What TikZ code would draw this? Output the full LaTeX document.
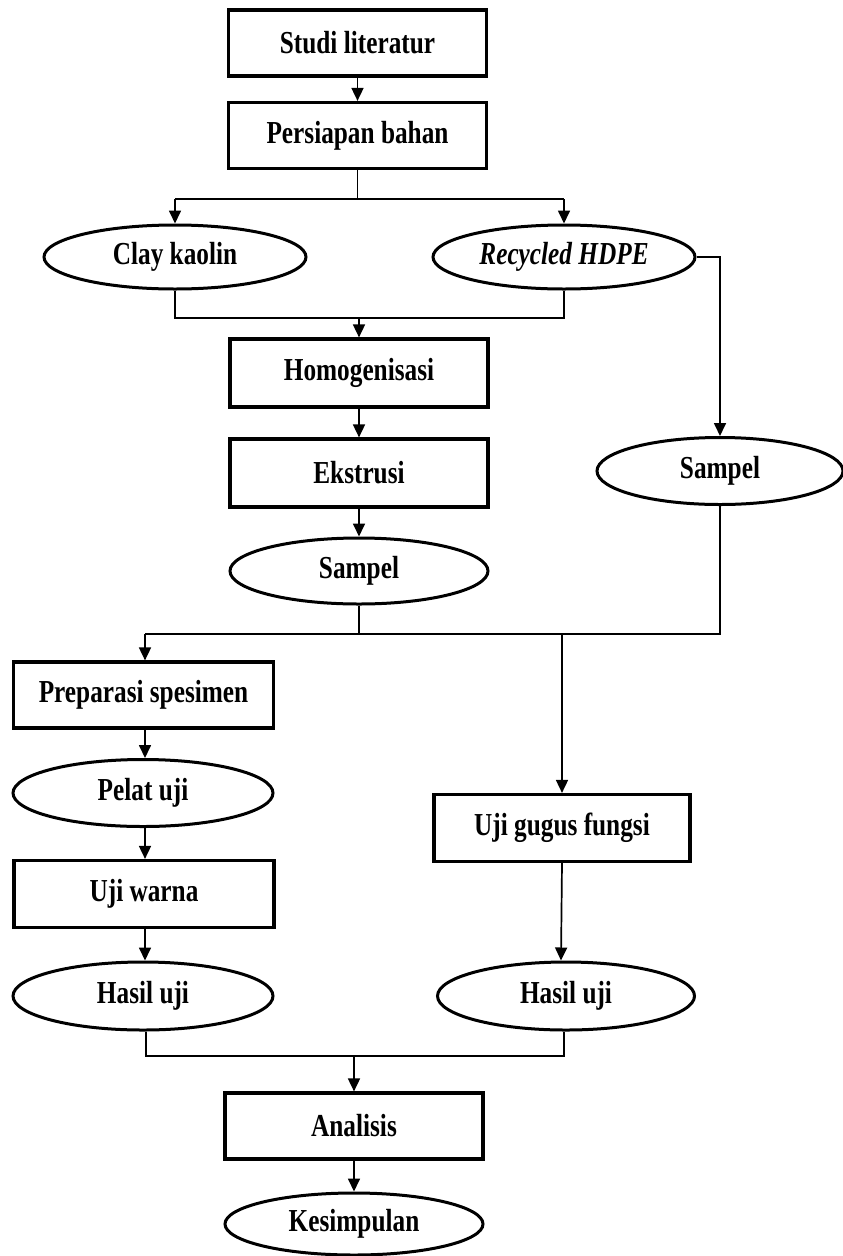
\documentclass[tikz,border=0pt]{standalone}
\usepackage{fontspec}
\setmainfont{Liberation Serif}[FakeStretch=0.79]
\usetikzlibrary{shapes.geometric,arrows.meta,calc}
\tikzset{
  boxnode/.style={draw, rectangle, line width=3.2pt, minimum width=258pt, minimum height=66pt, inner sep=0pt, font=\fontsize{32}{34}\selectfont\bfseries},
  ovalnode/.style={draw, ellipse, line width=3pt, minimum width=258pt, minimum height=66pt, inner sep=0pt, font=\fontsize{32}{34}\selectfont\bfseries},
  link/.style={line width=1.7pt},
  arr/.style={line width=1.7pt, -{Triangle[length=13pt,width=12pt]}}
}
\begin{document}
\begin{tikzpicture}[x=1pt,y=-1pt]
\useasboundingbox (0,0) rectangle (843,1256);
\fill[white] (0,0) rectangle (843,1256);
% nodes
\node[boxnode] (studi) at (357.5,43) {Studi literatur};
\node[boxnode] (pers) at (357.5,135.5) {Persiapan bahan};
\node[ovalnode, minimum width=262pt, minimum height=64pt] (clay) at (175,257) {Clay kaolin};
\node[ovalnode, minimum width=262pt, minimum height=64pt] (hdpe) at (564,257) {\itshape Recycled HDPE};
\node[boxnode, minimum height=68pt] (homo) at (359,373) {Homogenisasi};
\node[boxnode, minimum height=68pt] (ekst) at (359,473) {Ekstrusi};
\node[ovalnode] (sampA) at (359,571) {Sampel};
\node[ovalnode, minimum width=246pt, minimum height=67pt] (sampB) at (720,471) {Sampel};
\node[boxnode, minimum width=260pt] (prep) at (143.5,695) {Preparasi spesimen};
\node[ovalnode, minimum width=260pt, minimum height=67pt] (pelat) at (143,793) {Pelat uji};
\node[boxnode, minimum width=260pt, minimum height=67pt] (warna) at (144,894) {Uji warna};
\node[boxnode, minimum width=256pt, minimum height=67pt] (gugus) at (562,828) {Uji gugus fungsi};
\node[ovalnode, minimum width=260pt, minimum height=68pt] (hasilA) at (143,996) {Hasil uji};
\node[ovalnode, minimum width=257pt, minimum height=68pt] (hasilB) at (566,996) {Hasil uji};
\node[boxnode] (anal) at (354,1126) {Analisis};
\node[ovalnode, minimum height=62pt] (kes) at (354,1224) {Kesimpulan};
% junction coordinates
\coordinate (j1) at (357.5,199);
\coordinate (j2) at (359,318);
\coordinate (j3) at (359,634);
\coordinate (j4) at (354,1056);
\coordinate (r1) at (720,257);
% connectors
\draw[arr] (studi) -- (pers);
\draw[link] (pers.south) -- (j1);
\draw[link] (clay.north |- j1) -- (hdpe.north |- j1);
\draw[arr] (clay.north |- j1) -- (clay.north);
\draw[arr] (hdpe.north |- j1) -- (hdpe.north);
\draw[link] (clay.south) -- (clay.south |- j2) -- (hdpe.south |- j2) -- (hdpe.south);
\draw[arr] (j2) -- (homo.north);
\draw[arr] (homo) -- (ekst);
\draw[arr] (ekst) -- (sampA);
\draw[arr] (hdpe.east) -- (r1) -- (sampB.north);
\draw[link] (sampA.south) -- (j3);
\draw[link] (sampB.south) -- (sampB.south |- j3) -- ([xshift=1.5pt]prep.north |- j3);
\draw[arr] ([xshift=1.5pt]prep.north |- j3) -- ([xshift=1.5pt]prep.north);
\draw[arr] (gugus.north |- j3) -- (gugus.north);
\draw[arr] ([xshift=1.5pt]prep.south) -- ([xshift=2pt]pelat.north);
\draw[arr] ([xshift=2pt]pelat.south) -- ([xshift=1pt]warna.north);
\draw[arr] ([xshift=1pt]warna.south) -- ([xshift=2pt]hasilA.north);
\draw[arr] (gugus.south) -- ([xshift=-5pt]hasilB.north);
\draw[link] ([xshift=3pt]hasilA.south) -- ([xshift=3pt]hasilA.south |- j4) -- ([xshift=-2pt]hasilB.south |- j4) -- ([xshift=-2pt]hasilB.south);
\draw[arr] (j4) -- (anal.north);
\draw[arr] (anal) -- (kes);
\end{tikzpicture}
\end{document}
